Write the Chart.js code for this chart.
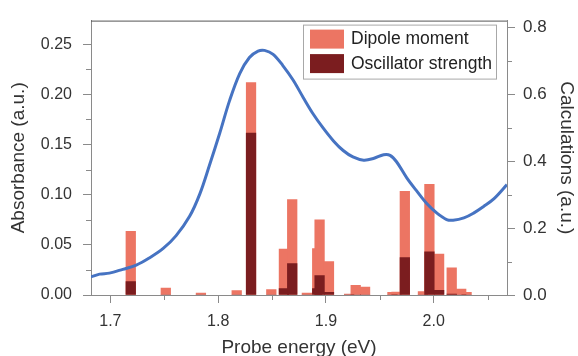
<!DOCTYPE html>
<html>
<head>
<meta charset="utf-8">
<script src="https://cdn.jsdelivr.net/npm/chart.js@4/dist/chart.umd.min.js"></script>
<style>
  body { margin: 0; background: #fff; }
  canvas { display: block; }
</style>
</head>
<body>
<canvas id="chart" width="578" height="356"></canvas>
<script>
/* global Chart */
// measured absorbance (left axis)
var probeEnergy = [1.682, 1.690, 1.699, 1.7115, 1.724, 1.736, 1.749, 1.761, 1.7735, 1.783,
  1.792, 1.8015, 1.8105, 1.820, 1.829, 1.837, 1.843, 1.851, 1.860, 1.8695,
  1.879, 1.888, 1.8975, 1.907, 1.916, 1.925, 1.935, 1.944, 1.9535, 1.9595,
  1.9655, 1.975, 1.984, 1.9935, 2.003, 2.012, 2.018, 2.028, 2.037, 2.046,
  2.056, 2.068]
var absorbance = [0.0180, 0.0208, 0.0218, 0.0256, 0.0298, 0.0368, 0.0464, 0.0592, 0.0784, 0.1008,
  0.1296, 0.1615, 0.1935, 0.2207, 0.2367, 0.2431, 0.2438, 0.2399, 0.2287, 0.2143,
  0.1967, 0.1807, 0.1663, 0.1536, 0.1440, 0.1376, 0.1344, 0.1360, 0.1398, 0.1392,
  0.1328, 0.1168, 0.1040, 0.0912, 0.0816, 0.0752, 0.0745, 0.0768, 0.0816, 0.0880,
  0.0960, 0.1100]

// calculated transitions (right axis)
var transitionEnergy = [1.7189, 1.7514, 1.784, 1.8172, 1.8305, 1.8493, 1.861, 1.8687, 1.8823, 1.8919,
  1.8941, 1.9028, 1.9215, 1.9276, 1.9363, 1.9617, 1.9655, 1.9732, 1.990, 1.996,
  2.005, 2.0167, 2.0255, 2.0305]
var dipoleMoment = [0.190, 0.021, 0.006, 0.013, 0.635, 0.016, 0.137, 0.285, 0.006, 0.139,
  0.225, 0.100, 0.003, 0.029, 0.024, 0.008, 0.009, 0.310, 0.010, 0.331,
  0.122, 0.081, 0.018, 0.008]
var oscillatorStrength = [0.040, 0, 0, 0, 0.484, 0, 0.019, 0.094, 0, 0.019,
  0.058, 0.008, 0, 0, 0, 0, 0, 0.112, 0, 0.129,
  0.014, 0.003, 0, 0]

// tick values
var xTicks = [1.7, 1.8, 1.9, 2.0]
var xMinorTicks = [1.75, 1.85, 1.95, 2.05]
var absTicks = [0, 0.05, 0.10, 0.15, 0.20, 0.25]
var absMinorTicks = [0.025, 0.075, 0.125, 0.175, 0.225]
var calcTicks = [0, 0.2, 0.4, 0.6, 0.8]
var calcMinorTicks = [0.1, 0.3, 0.5, 0.7]

var fontFamily = '"Liberation Sans", Arial, Helvetica, sans-serif'
var textColor = '#333'
var axisColor = '#8a8a8a'
var dipoleColor = '#ec7563'
var oscColor = '#7b1d1f'
var lineColor = '#4673c2'

function points(xs, ys) {
  return xs.map(function (x, i) {
    return { x: x, y: ys[i] }
  })
}

function fixedTicks(values) {
  return function (scale) {
    scale.ticks = values.map(function (v) { return { value: v } })
  }
}

// minor ticks, top frame line and the boxed legend
var extras = {
  id: 'extras',
  afterDraw: function (chart) {
    var ctx = chart.ctx
    var area = chart.chartArea
    var s = chart.scales

    ctx.save()
    ctx.strokeStyle = axisColor
    ctx.lineWidth = 1
    ctx.beginPath()
    xMinorTicks.forEach(function (v) {
      var px = Math.round(s.x.getPixelForValue(v)) + 0.5
      ctx.moveTo(px, area.bottom)
      ctx.lineTo(px, area.bottom + 5)
    })
    absMinorTicks.forEach(function (v) {
      var py = Math.round(s.y.getPixelForValue(v)) + 0.5
      ctx.moveTo(area.left - 5, py)
      ctx.lineTo(area.left, py)
    })
    calcMinorTicks.forEach(function (v) {
      var py = Math.round(s.y2.getPixelForValue(v)) + 0.5
      ctx.moveTo(area.right, py)
      ctx.lineTo(area.right + 5, py)
    })
    ctx.stroke()

    // top of the frame
    ctx.strokeStyle = '#555'
    ctx.beginPath()
    ctx.moveTo(area.left, area.top + 0.5)
    ctx.lineTo(area.right, area.top + 0.5)
    ctx.stroke()

    // legend
    var bx = area.right - 203.5
    var by = area.top + 4.5
    ctx.fillStyle = '#fff'
    ctx.fillRect(bx, by, 193, 54)
    ctx.strokeStyle = '#a8a8a8'
    ctx.strokeRect(bx, by, 193, 54)

    var rows = chart.data.datasets.filter(function (d) { return d.type !== 'line' })
    rows.sort(function (a, b) { return b.order - a.order })
    ctx.font = '17.5px ' + fontFamily
    ctx.textBaseline = 'middle'
    ctx.textAlign = 'left'
    rows.forEach(function (d, i) {
      var ry = by + 4.5 + i * 24.5
      ctx.fillStyle = d.backgroundColor
      ctx.fillRect(bx + 6.5, ry, 34, 19)
      ctx.fillStyle = '#222'
      ctx.fillText(d.label, bx + 47.5, ry + 10)
    })
    ctx.restore()
  }
}

var chart = new Chart(document.getElementById('chart'), {
  type: 'bar',
  data: {
    datasets: [
      {
        type: 'line',
        label: 'Absorbance',
        data: points(probeEnergy, absorbance),
        yAxisID: 'y',
        borderColor: lineColor,
        borderWidth: 3,
        pointRadius: 0,
        tension: 0.35,
        fill: false,
        order: 0
      },
      {
        label: 'Oscillator strength',
        data: points(transitionEnergy, oscillatorStrength),
        yAxisID: 'y2',
        backgroundColor: oscColor,
        barThickness: 9.6,
        grouped: false,
        order: 1
      },
      {
        label: 'Dipole moment',
        data: points(transitionEnergy, dipoleMoment),
        yAxisID: 'y2',
        backgroundColor: dipoleColor,
        barThickness: 9.6,
        grouped: false,
        order: 2
      }
    ]
  },
  options: {
    responsive: false,
    devicePixelRatio: 1,
    animation: false,
    events: [],
    layout: { padding: { top: 10, left: 0, right: 0, bottom: 0 } },
    plugins: {
      legend: { display: false },
      tooltip: { enabled: false }
    },
    scales: {
      x: {
        type: 'linear',
        min: 1.682,
        max: 2.068,
        offset: false,
        afterBuildTicks: fixedTicks(xTicks),
        afterFit: function (scale) { scale.height = 61 },
        grid: { offset: false, drawOnChartArea: false, tickLength: 8, color: axisColor },
        border: { display: true, color: axisColor },
        ticks: {
          padding: 9,
          color: textColor,
          font: { family: fontFamily, size: 16 },
          callback: function (v) { return v.toFixed(1) }
        },
        title: {
          display: true,
          text: 'Probe energy (eV)',
          color: textColor,
          font: { family: fontFamily, size: 19 },
          padding: { top: 0, bottom: -3 }
        }
      },
      y: {
        position: 'left',
        min: 0,
        max: 0.2735,
        afterBuildTicks: fixedTicks(absTicks),
        afterFit: function (scale) { scale.width = 91 },
        grid: { drawOnChartArea: false, tickLength: 8, color: axisColor },
        border: { display: true, color: axisColor },
        ticks: {
          padding: 11,
          color: textColor,
          font: { family: fontFamily, size: 16 },
          callback: function (v) { return v.toFixed(2) }
        },
        title: {
          display: true,
          text: 'Absorbance (a.u.)',
          color: textColor,
          font: { family: fontFamily, size: 19 },
          padding: { top: 7, bottom: 0 }
        }
      },
      y2: {
        position: 'right',
        min: 0,
        max: 0.82,
        afterBuildTicks: fixedTicks(calcTicks),
        afterFit: function (scale) { scale.width = 71 },
        grid: { drawOnChartArea: false, tickLength: 8, color: axisColor },
        border: { display: true, color: axisColor },
        ticks: {
          padding: 8,
          color: textColor,
          font: { family: fontFamily, size: 17 },
          callback: function (v) { return v.toFixed(1) }
        },
        title: {
          display: true,
          text: 'Calculations (a.u.)',
          color: textColor,
          font: { family: fontFamily, size: 19 },
          padding: { top: 0, bottom: 0 }
        }
      }
    }
  },
  plugins: [extras]
})
</script>
</body>
</html>
